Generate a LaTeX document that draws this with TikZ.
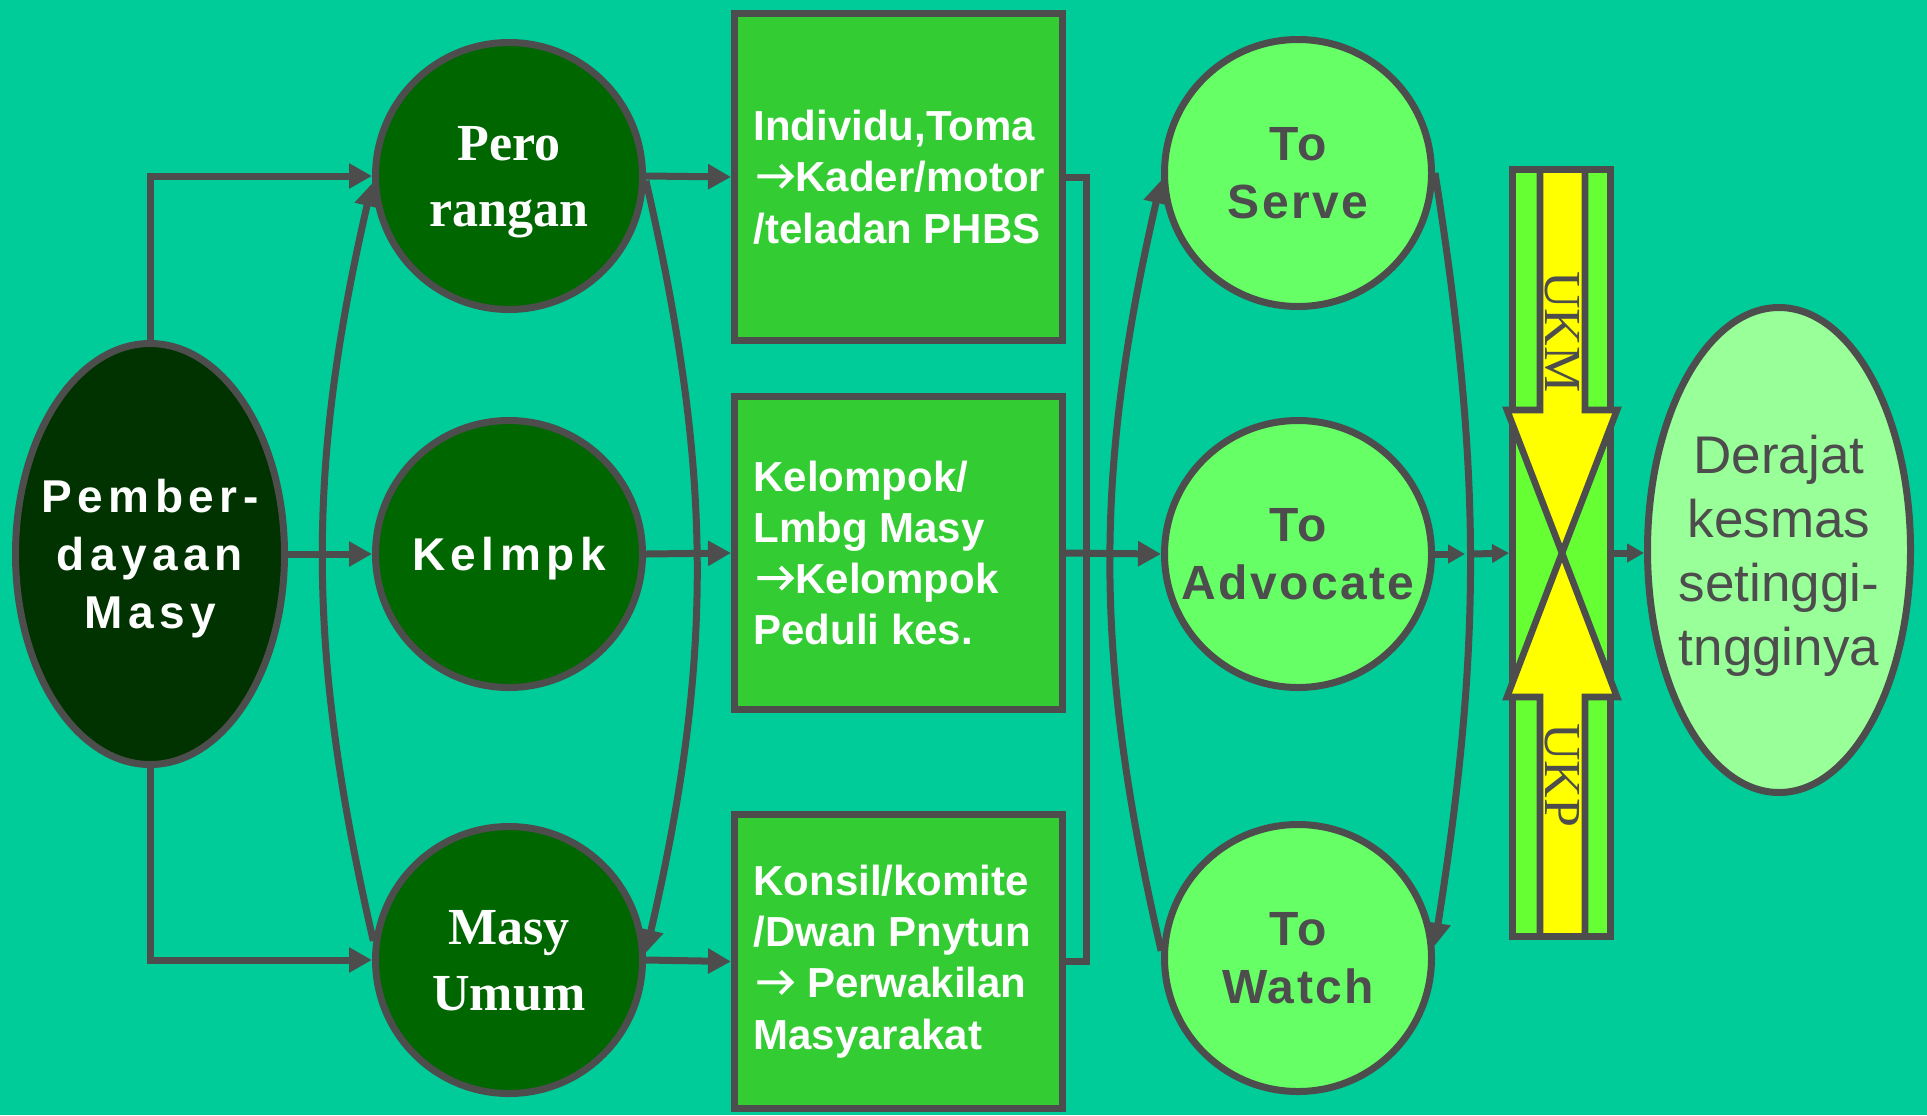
\documentclass[tikz,border=0pt]{standalone}
\usepackage{fontspec}
\setmainfont{Liberation Sans}
\newfontfamily\hurufserif{Liberation Serif}
\newfontfamily\lebar[LetterSpace=12]{Liberation Sans}
\newfontfamily\agaklebar[LetterSpace=5]{Liberation Sans}
\usetikzlibrary{shapes.geometric,arrows.meta,positioning}
\newcommand{\kanan}{\kern1pt\tikz[baseline=-0.37em]\draw[white,line width=2pt] (0pt,0pt) -- (17pt,0pt) (11.5pt,5.5pt) -- (17pt,0pt) -- (11.5pt,-5.5pt);\kern1pt}
\definecolor{latar}{HTML}{00CC99}
\definecolor{abu}{HTML}{4D4D4D}
\definecolor{tua}{HTML}{003300}
\definecolor{hijau}{HTML}{006600}
\definecolor{kotakhijau}{HTML}{33CC33}
\definecolor{muda}{HTML}{66FF66}
\definecolor{pucat}{HTML}{99FF99}
\definecolor{stabilo}{HTML}{66FF33}
\definecolor{kuning}{HTML}{FFFF00}
\begin{document}
\begin{tikzpicture}[x=0.5pt,y=0.5pt]
    \tikzset{
    pemb/.style={ellipse,minimum width=134.5pt,minimum height=210.5pt,inner sep=0pt,fill=tua,draw=abu,line width=3.5pt},
    pemtxt/.style={align=center,text depth=0pt,text=white,font=\lebar\bfseries\fontsize{23pt}{29pt}\selectfont},
    grp/.style={circle,minimum size=133.5pt,inner sep=0pt,text depth=0pt,fill=hijau,draw=abu,line width=3.5pt,text=white,align=center,font=\hurufserif\bfseries\fontsize{26pt}{33pt}\selectfont},
    kotak/.style={rectangle,minimum width=164pt,fill=kotakhijau,draw=abu,line width=3.5pt},
    kotaktxt/.style={align=left,inner sep=0pt,text=white,font=\bfseries\fontsize{21pt}{25.6pt}\selectfont},
    peran/.style={circle,minimum size=133.5pt,inner sep=0pt,fill=muda,draw=abu,line width=3.5pt,text=abu,align=center,font=\agaklebar\bfseries\fontsize{24pt}{29pt}\selectfont},
    batang/.style={rectangle,minimum width=49pt,minimum height=383.5pt,fill=stabilo,draw=abu,line width=3.5pt},
    kepala/.style={fill=kuning,draw=abu,line width=3.3pt},
    ukmtxt/.style={rotate=-90,inner sep=0pt,text=abu,font=\hurufserif\fontsize{26pt}{30pt}\selectfont},
    hasil/.style={ellipse,minimum width=131.5pt,minimum height=242.5pt,inner sep=0pt,fill=pucat,draw=abu,line width=3.5pt},
    hasiltxt/.style={align=center,text depth=0pt,text=abu,font=\fontsize{26.5pt}{32pt}\selectfont},
    sambung/.style={draw=abu,line width=3.5pt},
    panah/.style={sambung,-{Triangle[length=11.5pt,width=12pt]}},
    panahkecil/.style={sambung,-{Triangle[length=8.5pt,width=9pt]}},
    }
    \fill[latar,use as bounding box] (0,0) rectangle (1927,-1115);

    % kolom kiri
    \node[pemb,label={[pemtxt]center:{Pember-\\dayaan\\Masy}}] (pem) at (150,-554) {};
    \node[grp] (pero) at (509,-176) {Pero\\rangan};
    \node[grp,font=\lebar\bfseries\fontsize{23pt}{29pt}\selectfont] (kel) at (509,-554) {Kelmpk};
    \node[grp] (masy) at (509,-960) {Masy\\Umum};

    % kotak tengah
    \node[kotak,minimum height=163.5pt] (box1) at (898.5,-177) {};
    \node[kotak,minimum height=156.5pt] (box2) at (898.5,-553) {};
    \node[kotak,minimum height=147pt] (box3) at (898.5,-961.5) {};
    \node[kotaktxt,right=11pt of box1.west] (t1) {Individu,Toma\\\kanan Kader/motor\\/teladan PHBS};
    \node[kotaktxt,right=11pt of box2.west] (t2) {Kelompok/\\Lmbg Masy\\\kanan Kelompok\\Peduli kes.};
    \node[kotaktxt,right=11pt of box3.west] (t3) {Konsil/komite\\/Dwan Pnytun\\\kanan{} Perwakilan\\Masyarakat};

    % peran
    \node[peran] (serve) at (1298,-173) {To\\Serve};
    \node[peran] (adv) at (1298,-554) {To\\Advocate};
    \node[peran] (watch) at (1298,-958) {To\\Watch};

    % UKM / UKP
    \node[batang] (bar) at (1561.5,-553) {};
    \filldraw[kepala] (1540,-169.5) -- (1540,-410) -- (1507,-410) -- (1562,-553) -- (1617,-410) -- (1585,-410) -- (1585,-169.5) -- cycle;
    \filldraw[kepala] (1540,-936.5) -- (1540,-697) -- (1507,-697) -- (1562,-553) -- (1617,-697) -- (1585,-697) -- (1585,-936.5) -- cycle;
    \node[ukmtxt] (ukm) at (1562,-332) {UKM};
    \node[ukmtxt] (ukp) at (1562,-775) {UKP};

    \node[hasil,label={[hasiltxt]center:{Derajat\\kesmas\\setinggi-\\tngginya}}] (der) at (1779,-550) {};

    % panah kiri
    \draw[panah] (pem.north) |- (pero.west);
    \draw[panah] (pem.east) -- (kel.west);
    \draw[panah] (pem.south) |- (masy.west);
    \draw[panah] (masy.172) to[out=103,in=257] (pero.183);
    \draw[panah] (pero.358) to[out=-77,in=77] (masy.3);
    \draw[panah] (pero.east) -- (box1.west);
    \draw[panah] (kel.east) -- (box2.west);
    \draw[panah] (masy.east) -- (box3.west);

    % panah kanan
    \coordinate (siku) at (1086,-553);
    \draw[sambung] (box1.east) -| (siku) |- (box3.east);
    \draw[panah] (box2.east) -- (adv.west);
    \draw[panah] (watch.177) to[out=103,in=257] (serve.183);
    \draw[panah] (serve.east) to[out=-81,in=81] (watch.5);
    \coordinate (u1) at (1465,-554);
    \coordinate (u2) at (1474,-554);
    \draw[panahkecil] (adv.east) -- (u1);
    \draw[panahkecil] (u2) -- (bar.west);
    \draw[panahkecil] (bar.east) -- (bar.east -| der.west);
\end{tikzpicture}
\end{document}
